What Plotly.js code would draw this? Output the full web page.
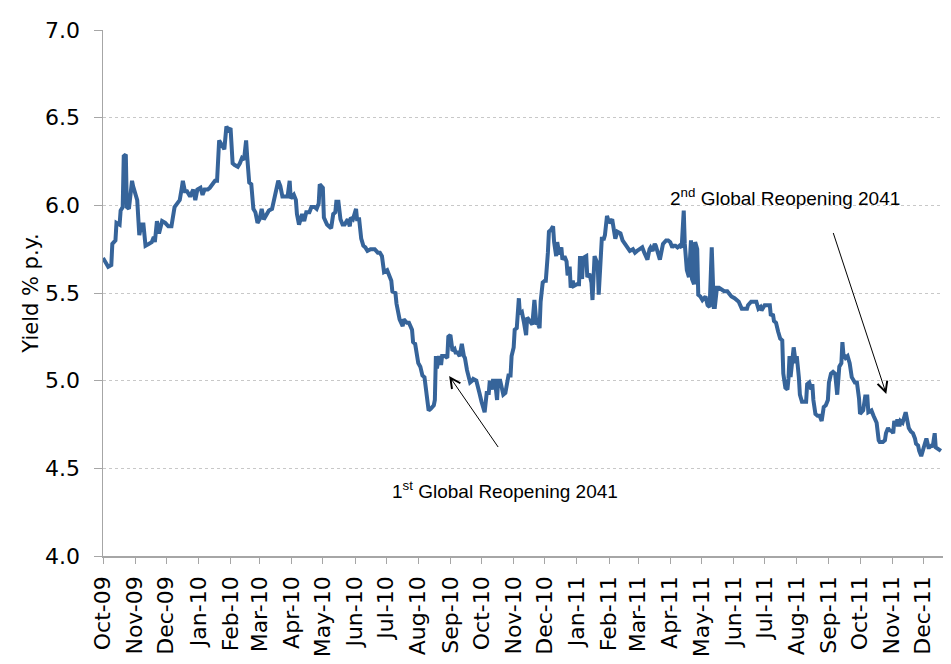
<!DOCTYPE html>
<html>
<head>
<meta charset="utf-8">
<script src="https://cdn.plot.ly/plotly-3.0.1.min.js"></script>
<style>html,body{margin:0;padding:0;background:#fff;}#chart{width:951px;height:664px;}</style>
</head>
<body>
<div id="chart"></div>
<script>
const dates2009 = ['2009-10-01','2009-10-04','2009-10-06','2009-10-09','2009-10-10','2009-10-13','2009-10-14','2009-10-17','2009-10-18','2009-10-20','2009-10-21','2009-10-23','2009-10-24','2009-10-26','2009-10-29','2009-10-30',
'2009-11-02','2009-11-03','2009-11-05','2009-11-07','2009-11-09','2009-11-11','2009-11-14','2009-11-17','2009-11-19','2009-11-20','2009-11-22','2009-11-24','2009-11-27','2009-11-30',
'2009-12-03','2009-12-06','2009-12-09','2009-12-12','2009-12-14','2009-12-16','2009-12-17','2009-12-19','2009-12-21','2009-12-24','2009-12-27','2009-12-29','2009-12-31'];
const yields2009 = [5.70,5.67,5.65,5.66,5.78,5.80,5.90,5.89,5.97,5.99,6.28,6.29,5.99,5.98,6.14,6.11,
6.04,6.03,5.83,5.89,5.89,5.77,5.78,5.79,5.82,5.79,5.91,5.84,5.91,5.90,
5.88,5.88,5.99,6.02,6.03,6.10,6.14,6.08,6.08,6.05,6.09,6.03,6.09];

const dates2010 = ['2010-01-03','2010-01-05','2010-01-07','2010-01-10','2010-01-12','2010-01-15','2010-01-17','2010-01-19','2010-01-21','2010-01-23','2010-01-26','2010-01-28','2010-01-30',
'2010-02-01','2010-02-03','2010-02-05','2010-02-08','2010-02-10','2010-02-12','2010-02-14','2010-02-16','2010-02-17','2010-02-19','2010-02-21','2010-02-23','2010-02-25','2010-02-27',
'2010-03-01','2010-03-03','2010-03-05','2010-03-08','2010-03-10','2010-03-13','2010-03-17','2010-03-19','2010-03-21','2010-03-23','2010-03-26','2010-03-28','2010-03-30','2010-03-31',
'2010-04-03','2010-04-05','2010-04-06','2010-04-08','2010-04-11','2010-04-13','2010-04-15','2010-04-18','2010-04-20','2010-04-23','2010-04-25','2010-04-27','2010-04-28',
'2010-05-01','2010-05-02','2010-05-05','2010-05-07','2010-05-09','2010-05-11','2010-05-13','2010-05-14','2010-05-16','2010-05-18','2010-05-20','2010-05-22','2010-05-25','2010-05-27','2010-05-28','2010-05-30',
'2010-06-02','2010-06-03','2010-06-05','2010-06-07','2010-06-09','2010-06-11','2010-06-13','2010-06-16','2010-06-18','2010-06-20','2010-06-23','2010-06-25','2010-06-27','2010-06-29',
'2010-07-02','2010-07-04','2010-07-06','2010-07-07','2010-07-10','2010-07-11','2010-07-13','2010-07-14','2010-07-17','2010-07-18','2010-07-21','2010-07-23','2010-07-26','2010-07-27','2010-07-29','2010-07-31',
'2010-08-01','2010-08-03','2010-08-05','2010-08-07','2010-08-09','2010-08-11','2010-08-13','2010-08-16','2010-08-17','2010-08-18','2010-08-19','2010-08-21','2010-08-23','2010-08-24','2010-08-27','2010-08-29','2010-08-30',
'2010-09-01','2010-09-03','2010-09-05','2010-09-06','2010-09-08','2010-09-10','2010-09-12','2010-09-14','2010-09-15','2010-09-17','2010-09-18','2010-09-20','2010-09-22','2010-09-23','2010-09-26','2010-09-27','2010-09-29',
'2010-10-01','2010-10-03','2010-10-04','2010-10-06','2010-10-08','2010-10-09','2010-10-11','2010-10-12','2010-10-14','2010-10-16','2010-10-17','2010-10-19','2010-10-21','2010-10-22','2010-10-24','2010-10-25','2010-10-27','2010-10-29','2010-10-30',
'2010-11-01','2010-11-02','2010-11-04','2010-11-06','2010-11-07','2010-11-09','2010-11-11','2010-11-13','2010-11-14','2010-11-17','2010-11-19','2010-11-21','2010-11-23','2010-11-24','2010-11-26','2010-11-27','2010-11-29',
'2010-12-01','2010-12-02','2010-12-04','2010-12-05','2010-12-07','2010-12-09','2010-12-10','2010-12-12','2010-12-13','2010-12-15','2010-12-17','2010-12-18','2010-12-20','2010-12-22','2010-12-23','2010-12-25','2010-12-26','2010-12-28','2010-12-29'];
const yields2010 = [6.10,6.06,6.09,6.09,6.10,6.12,6.14,6.14,6.37,6.35,6.32,6.45,6.43,
6.44,6.24,6.23,6.22,6.24,6.27,6.26,6.37,6.28,6.13,6.12,5.98,5.96,5.90,
5.92,5.98,5.92,5.95,5.97,5.98,6.08,6.14,6.11,6.05,6.05,6.05,6.14,6.04,
6.06,6.03,5.95,5.89,5.95,5.91,5.96,5.96,5.99,5.99,5.98,6.01,6.12,
6.10,5.93,5.89,5.88,5.87,5.95,5.96,6.02,6.02,5.92,5.89,5.89,5.92,5.88,5.93,5.92,
5.98,5.92,5.92,5.81,5.77,5.76,5.74,5.75,5.75,5.75,5.73,5.73,5.71,5.62,
5.63,5.60,5.57,5.51,5.50,5.44,5.36,5.35,5.31,5.35,5.33,5.33,5.29,5.22,5.21,5.11,
5.10,5.08,5.03,5.02,4.90,4.83,4.84,4.86,4.89,5.14,5.07,5.14,5.09,5.14,5.14,5.13,5.25,
5.26,5.17,5.18,5.16,5.16,5.14,5.21,5.14,5.13,5.06,5.03,4.99,5.00,5.01,5.00,4.98,4.93,
4.88,4.83,4.82,4.93,4.93,5.00,4.95,5.00,5.00,4.89,5.00,5.00,4.94,4.92,4.93,4.97,5.03,5.03,5.14,
5.19,5.29,5.30,5.47,5.38,5.39,5.33,5.26,5.36,5.33,5.32,5.46,5.32,5.33,5.30,5.45,5.56,
5.57,5.57,5.73,5.85,5.86,5.88,5.79,5.71,5.79,5.72,5.76,5.69,5.71,5.68,5.60,5.65,5.53,5.57,5.54];

const dates2011 = ['2011-01-01','2011-01-03','2011-01-04','2011-01-06','2011-01-07','2011-01-10','2011-01-11','2011-01-13','2011-01-15','2011-01-16','2011-01-18','2011-01-20','2011-01-21','2011-01-22','2011-01-24','2011-01-25','2011-01-27','2011-01-28','2011-01-30',
'2011-02-01','2011-02-04','2011-02-05','2011-02-07','2011-02-09','2011-02-12','2011-02-14','2011-02-17','2011-02-19','2011-02-21','2011-02-24','2011-02-26','2011-02-28',
'2011-03-03','2011-03-05','2011-03-07','2011-03-08','2011-03-10','2011-03-12','2011-03-13','2011-03-15','2011-03-17','2011-03-18','2011-03-21','2011-03-22','2011-03-24','2011-03-25','2011-03-28','2011-03-30',
'2011-04-01','2011-04-03','2011-04-04','2011-04-06','2011-04-08','2011-04-10','2011-04-12','2011-04-14','2011-04-15','2011-04-17','2011-04-19','2011-04-20','2011-04-21','2011-04-22','2011-04-24','2011-04-25','2011-04-27','2011-04-28','2011-04-30',
'2011-05-02','2011-05-05','2011-05-07','2011-05-09','2011-05-11','2011-05-13','2011-05-14','2011-05-16','2011-05-18','2011-05-21','2011-05-23','2011-05-26','2011-05-28','2011-05-30',
'2011-06-02','2011-06-04','2011-06-06','2011-06-09','2011-06-11','2011-06-14','2011-06-15','2011-06-18','2011-06-20','2011-06-23','2011-06-25','2011-06-27','2011-06-28',
'2011-07-01','2011-07-03','2011-07-06','2011-07-07','2011-07-09','2011-07-10','2011-07-12','2011-07-14','2011-07-16','2011-07-18','2011-07-19','2011-07-21','2011-07-23','2011-07-24','2011-07-25','2011-07-26','2011-07-28','2011-07-29','2011-07-31',
'2011-08-01','2011-08-03','2011-08-04','2011-08-06','2011-08-08','2011-08-10','2011-08-11','2011-08-13','2011-08-15','2011-08-16','2011-08-17','2011-08-19','2011-08-21','2011-08-23','2011-08-25','2011-08-27','2011-08-29','2011-08-31',
'2011-09-01','2011-09-03','2011-09-05','2011-09-07','2011-09-09','2011-09-10','2011-09-11','2011-09-13','2011-09-14','2011-09-15','2011-09-17','2011-09-19','2011-09-21','2011-09-23','2011-09-25','2011-09-26','2011-09-28','2011-09-30',
'2011-10-01','2011-10-03','2011-10-04','2011-10-06','2011-10-08','2011-10-09','2011-10-11','2011-10-12','2011-10-14','2011-10-16','2011-10-17','2011-10-19','2011-10-20','2011-10-23','2011-10-25','2011-10-26','2011-10-28','2011-10-29',
'2011-11-01','2011-11-02','2011-11-03','2011-11-05','2011-11-06','2011-11-08','2011-11-09','2011-11-11','2011-11-13','2011-11-14','2011-11-16','2011-11-17','2011-11-19','2011-11-21','2011-11-23','2011-11-24','2011-11-26','2011-11-27','2011-11-29',
'2011-12-01','2011-12-02','2011-12-04','2011-12-06','2011-12-07','2011-12-09','2011-12-10','2011-12-12','2011-12-13','2011-12-16','2011-12-18'];
const yields2011 = [5.55,5.55,5.71,5.58,5.70,5.71,5.59,5.61,5.56,5.46,5.71,5.68,5.67,5.49,5.69,5.81,5.81,5.83,5.94,
5.90,5.92,5.88,5.81,5.85,5.84,5.80,5.77,5.76,5.74,5.75,5.73,5.74,
5.75,5.76,5.73,5.72,5.69,5.75,5.76,5.74,5.78,5.77,5.72,5.69,5.75,5.78,5.80,5.80,
5.79,5.76,5.77,5.77,5.76,5.77,5.76,5.97,5.78,5.63,5.59,5.71,5.80,5.58,5.55,5.79,5.75,5.49,5.48,
5.46,5.48,5.43,5.42,5.76,5.42,5.42,5.53,5.53,5.52,5.51,5.51,5.49,5.48,
5.47,5.46,5.45,5.41,5.41,5.41,5.43,5.45,5.45,5.45,5.41,5.42,5.40,
5.43,5.43,5.43,5.37,5.38,5.34,5.33,5.28,5.24,5.23,5.04,4.96,4.95,5.01,5.14,5.02,5.11,5.19,5.10,
5.14,5.02,4.92,4.88,4.88,4.88,4.98,4.99,4.95,4.98,4.89,4.81,4.80,4.80,4.77,4.85,4.86,4.89,
4.99,5.04,5.05,5.04,4.92,5.03,5.08,5.10,5.22,5.15,5.13,5.14,5.10,5.02,5.00,4.99,4.99,4.90,
4.81,4.82,4.83,4.91,4.91,4.82,4.83,4.83,4.80,4.76,4.76,4.66,4.65,4.65,4.66,4.70,4.73,4.72,
4.71,4.70,4.77,4.74,4.78,4.74,4.77,4.76,4.79,4.82,4.76,4.73,4.71,4.70,4.67,4.64,4.63,4.60,4.57,
4.62,4.63,4.67,4.62,4.62,4.63,4.62,4.70,4.62,4.61,4.60];

const yTicks = [4.0, 4.5, 5.0, 5.5, 6.0, 6.5, 7.0];
const yTitle = 'Yield % p.y.';
const note1 = '1<sup>st</sup> Global Reopening 2041';
const note2 = '2<sup>nd</sup> Global Reopening 2041';

const dates = dates2009.concat(dates2010, dates2011);
const yields = yields2009.concat(yields2010, yields2011);

const trace = {
  x: dates, y: yields, type: 'scatter', mode: 'lines',
  line: {color: '#36649A', width: 4},
  hoverinfo: 'x+y'
};

const tickFont = {family: 'DejaVu Sans', size: 22, color: '#000'};
const noteFont = {family: 'Liberation Sans', size: 19, color: '#000'};

const layout = {
  width: 951, height: 664,
  margin: {l: 103, r: 8, t: 30, b: 108, pad: 0},
  paper_bgcolor: '#fff', plot_bgcolor: '#fff',
  showlegend: false,
  xaxis: {
    type: 'date', range: ['2009-10-01', '2011-12-20'],
    tick0: '2009-10-01', dtick: 'M1', tickformat: '%b-%y', tickangle: -90,
    ticks: 'outside', ticklen: 6, tickcolor: '#A6A6A6', tickwidth: 1,
    showline: true, linecolor: '#A6A6A6', linewidth: 1.5,
    showgrid: false, zeroline: false, tickfont: tickFont, ticklabelstandoff: 4,
    automargin: false
  },
  yaxis: {
    range: [4, 7], tickvals: yTicks, tickformat: '.1f',
    ticks: 'outside', ticklen: 8, tickcolor: '#A6A6A6', tickwidth: 1,
    showline: true, linecolor: '#A6A6A6', linewidth: 1.5,
    showgrid: true, gridcolor: '#C8C8C8', gridwidth: 1, griddash: 'dot',
    zeroline: false, tickfont: tickFont, ticklabelstandoff: 9,
    title: {text: yTitle, font: {family: 'DejaVu Sans', size: 21, color: '#000'}},
    automargin: false
  },
  annotations: [
    {x: '2010-08-30 19:00', y: 5.027, xref: 'x', yref: 'y', ax: 51, ay: 74,
     text: ' ', font: {size: 2}, showarrow: true, arrowhead: 5, arrowsize: 2, arrowwidth: 1, arrowcolor: '#000'},
    {x: '2011-10-26 07:00', y: 4.924, xref: 'x', yref: 'y', ax: -54, ay: -164,
     text: ' ', font: {size: 2}, showarrow: true, arrowhead: 5, arrowsize: 2, arrowwidth: 1, arrowcolor: '#000'},
    {x: '2010-10-23 19:00', y: 4.376, xref: 'x', yref: 'y', text: note1, showarrow: false, font: noteFont},
    {x: '2011-07-21', y: 6.048, xref: 'x', yref: 'y', text: note2, showarrow: false, font: noteFont}
  ]
};

Plotly.newPlot('chart', [trace], layout, {displayModeBar: false, staticPlot: true});
</script>
</body>
</html>
